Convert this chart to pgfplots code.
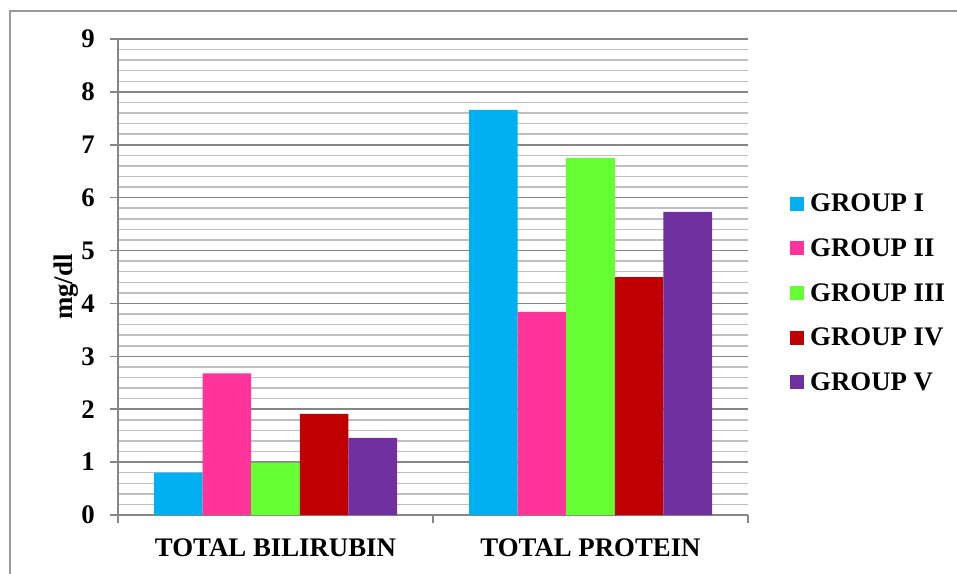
\documentclass[border=0pt]{standalone}
\usepackage{fontspec}
\setmainfont{Liberation Serif}
\usepackage{pgfplots}
\pgfplotsset{compat=1.18}

\definecolor{gI}{HTML}{00B0F0}
\definecolor{gII}{HTML}{FF3399}
\definecolor{gIII}{HTML}{66FF33}
\definecolor{gIV}{HTML}{C00000}
\definecolor{gV}{HTML}{7030A0}
\definecolor{axisgray}{HTML}{868686}
\definecolor{minorgray}{HTML}{BFBFBF}
\definecolor{framegray}{HTML}{9A9A9A}

\newcommand{\chartfont}{\bfseries\fontsize{26.8}{30}\selectfont}

\begin{document}
\begin{tikzpicture}
\useasboundingbox (0pt,0pt) rectangle (957pt,573pt);
\draw[framegray, line width=1.2pt] (10pt,-20pt) -- (10pt,562pt) -- (990pt,562pt);
\begin{axis}[
    at={(118pt,58pt)}, anchor=south west,
    scale only axis, width=630pt, height=476pt,
    ybar=0pt, bar width=48.6pt,
    xmin=-0.5, xmax=1.5, ymin=0, ymax=9,
    axis x line*=bottom, axis y line*=left,
    axis line style={axisgray, line width=1.5pt},
    xtick={-0.5,0.5,1.5},
    x tick label as interval,
    xticklabels={TOTAL BILIRUBIN, TOTAL PROTEIN},
    ytick={0,1,...,9},
    minor y tick num=4,
    tick align=outside,
    major tick length=8pt, minor tick length=0pt,
    tick style={axisgray, line width=1.5pt},
    ymajorgrids, yminorgrids,
    major grid style={axisgray, line width=1.5pt},
    minor grid style={minorgray, line width=1.5pt},
    /pgf/number format/assume math mode=true,
    ticklabel style={font=\chartfont},
    yticklabel style={inner sep=0pt, xshift=-15pt},
    xticklabel style={inner sep=0pt, yshift=-16pt},
    ylabel={mg/dl},
    ylabel style={font=\chartfont, at={(axis description cs:-0.0825,0.479)}, anchor=center},
    legend style={draw=none, fill=none, font=\chartfont,
        at={(axis description cs:1.0667,0.4664)}, anchor=west,
        inner sep=0pt, row sep=25.5pt, column sep=6pt,
        nodes={inner sep=0pt}},
    legend cell align=left,
    legend image code/.code={\fill[#1] (0pt,-7pt) rectangle (14pt,7pt);},
]
\addplot[fill=gI, draw=none] coordinates {(0,0.80) (1,7.66)};
\addplot[fill=gII, draw=none] coordinates {(0,2.68) (1,3.84)};
\addplot[fill=gIII, draw=none] coordinates {(0,0.99) (1,6.75)};
\addplot[fill=gIV, draw=none] coordinates {(0,1.91) (1,4.50)};
\addplot[fill=gV, draw=none] coordinates {(0,1.46) (1,5.73)};
\legend{GROUP I, GROUP II, GROUP III, GROUP IV, GROUP V}
\end{axis}
\end{tikzpicture}
\end{document}
